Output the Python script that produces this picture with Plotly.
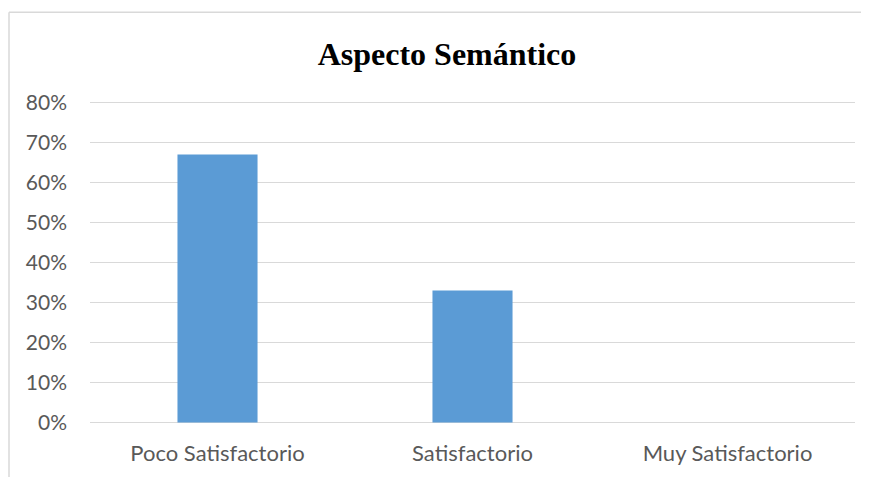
import plotly.graph_objects as go

categories = ["Poco Satisfactorio", "Satisfactorio", "Muy Satisfactorio"]
values = [0.67, 0.33, 0.0]
y_ticks = [0, 0.1, 0.2, 0.3, 0.4, 0.5, 0.6, 0.7, 0.8]

# page body has an 8px margin, so the figure is drawn 8px right/down
OFF = 8
PAD = 0.004                     # small range padding so the 0% / 80% grid lines are drawn
UNIT = 319 / 0.8                # pixels per unit on the y axis in the reference
W, H = 861, 469
L, R = 90 - OFF, 14
T = 103 - OFF - PAD * UNIT
B = 55 - PAD * UNIT
pw, ph = W - L - R, H - T - B

def px_x(p):
    return (p - OFF - L) / pw

def px_y(p):
    return (H - B - (p - OFF)) / ph

fig = go.Figure(go.Bar(x=categories, y=values, marker=dict(color="#5B9BD5", line=dict(width=0))))

fig.update_layout(
    width=W, height=H,
    margin=dict(l=L, r=R, t=T, b=B),
    paper_bgcolor="white", plot_bgcolor="white",
    bargap=0.686,
    showlegend=False,
    title=dict(text="<b>Aspecto Semántico</b>", x=px_x(447), xref="paper", xanchor="center",
               y=1 - (54 - OFF) / H, yanchor="middle",
               font=dict(family="Liberation Serif", size=32, color="black")),
    font=dict(family="Lato", size=21, color="#595959"),
)
fig.update_yaxes(range=[-PAD, 0.8 + PAD], tickvals=y_ticks, tickformat=".0%", showgrid=True,
                 gridcolor="#d9d9d9", gridwidth=1.3, zeroline=False, showline=False,
                 ticks="", ticklabelstandoff=22)
fig.update_xaxes(showgrid=False, showline=False, zeroline=False, ticks="", ticklabelstandoff=14,
                 tickfont=dict(size=22))

# chart frame (top and left edges visible)
fig.add_shape(type="line", xref="paper", yref="paper", x0=px_x(9), x1=px_x(870), y0=px_y(13), y1=px_y(13),
              line=dict(color="#d9d9d9", width=1.5))
fig.add_shape(type="line", xref="paper", yref="paper", x0=px_x(9), x1=px_x(9), y0=px_y(13), y1=px_y(480),
              line=dict(color="#d9d9d9", width=1.5))

fig.write_html("out.html")
